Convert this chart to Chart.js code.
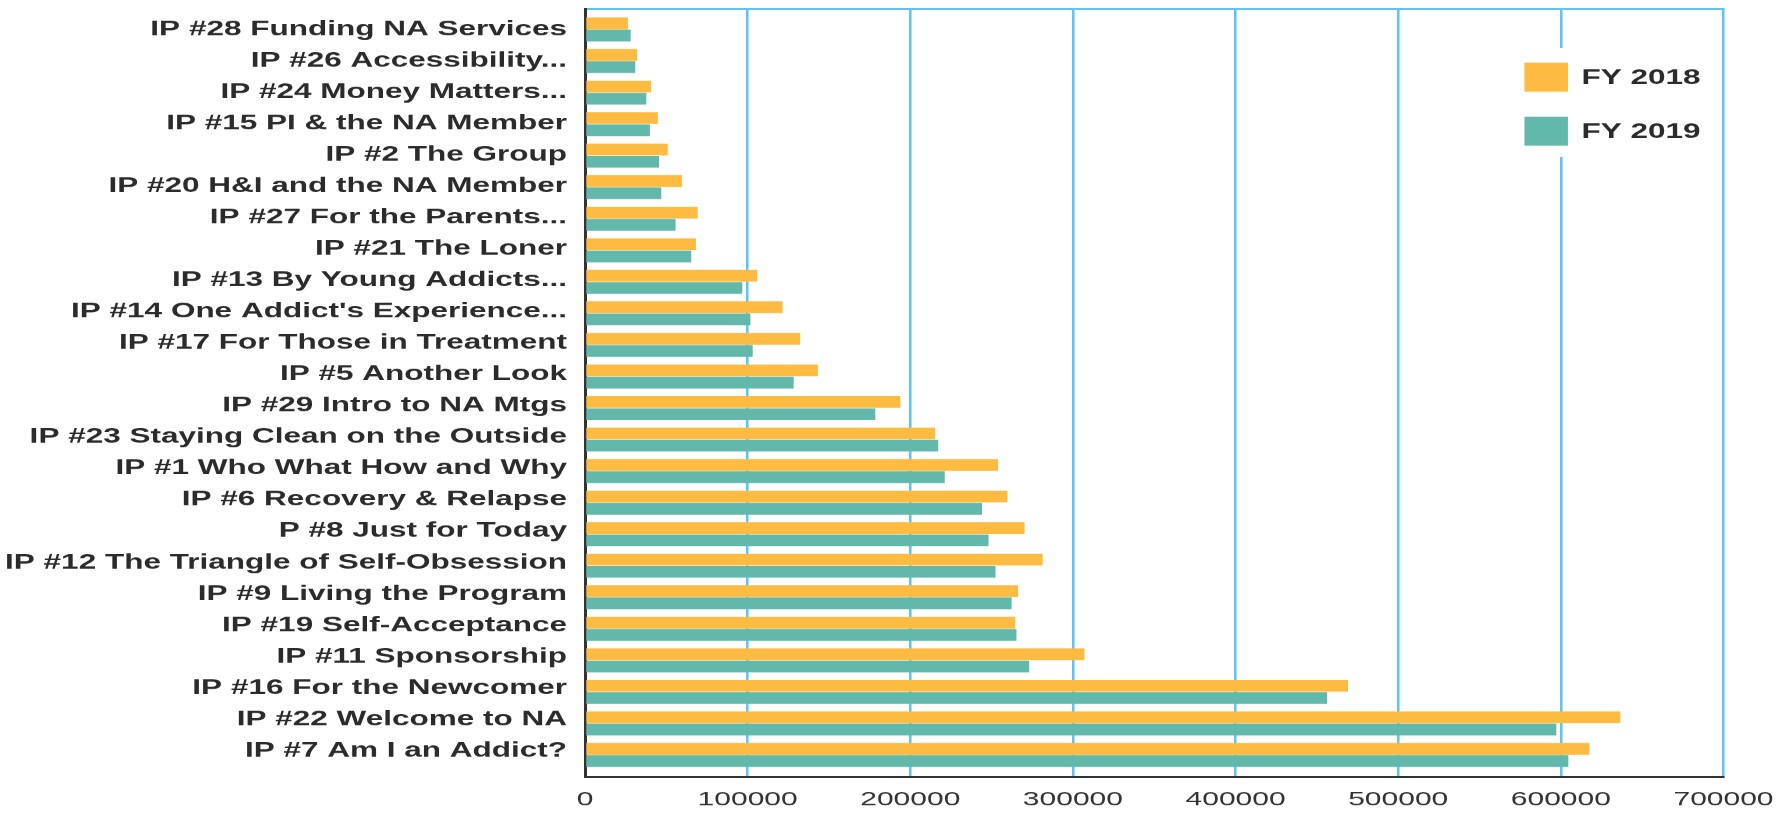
<!DOCTYPE html>
<html>
<head>
<meta charset="utf-8">
<script src="https://cdn.jsdelivr.net/npm/chart.js@4/dist/chart.umd.min.js"></script>
<style>
  html, body { margin: 0; padding: 0; background: #ffffff; overflow: hidden; }
  #c { display: block; width: 1777px !important; height: 814px !important; }
</style>
</head>
<body>
<canvas id="c" width="1185" height="814" style="width:1777px;height:814px;"></canvas>
<script>
// ---- data ----
const categories = [
  "IP #28 Funding NA Services",
  "IP #26 Accessibility...",
  "IP #24 Money Matters...",
  "IP #15 PI & the NA Member",
  "IP #2 The Group",
  "IP #20 H&I and the NA Member",
  "IP #27 For the Parents...",
  "IP #21 The Loner",
  "IP #13 By Young Addicts...",
  "IP #14 One Addict's Experience...",
  "IP #17 For Those in Treatment",
  "IP #5 Another Look",
  "IP #29 Intro to NA Mtgs",
  "IP #23 Staying Clean on the Outside",
  "IP #1 Who What How and Why",
  "IP #6 Recovery & Relapse",
  "P #8 Just for Today",
  "IP #12 The Triangle of Self-Obsession",
  "IP #9 Living the Program",
  "IP #19 Self-Acceptance",
  "IP #11 Sponsorship",
  "IP #16 For the Newcomer",
  "IP #22 Welcome to NA",
  "IP #7 Am I an Addict?"
];
const fy2018 = [26400, 32100, 40600, 44800, 50900, 59700, 69300, 68200, 105900, 121500, 132300, 143200,
                193900, 215300, 254000, 259700, 270300, 281400, 266300, 264600, 307100, 469100, 636600, 617600];
const fy2019 = [28100, 30900, 37700, 39900, 45500, 46900, 55700, 65300, 96700, 101700, 103100, 128300,
                178500, 217200, 221200, 244100, 248100, 252400, 262300, 265300, 273100, 456300, 597200, 604600];
const seriesNames = ["FY 2018", "FY 2019"];
const xTickMin = 0;
const xTickMax = 700000;
const xTickStep = 100000;

// ---- styles ----
const ORANGE = '#FDBB41';
const TEAL = '#62B9AB';
const GRID_BLUE = '#5EC6EE';
const AXIS_DARK = '#333333';
const TEXT_DARK = '#2b2b2b';
const FONT = '"Liberation Sans", Arial, Helvetica, sans-serif';

Chart.defaults.font.family = FONT;

const sideLegend = {
  id: 'sideLegend',
  afterDatasetsDraw(chart) {
    const ctx = chart.ctx;
    const ca = chart.chartArea;
    const boxLeft = ca.right - 132.7;
    ctx.save();
    ctx.fillStyle = '#ffffff';
    ctx.fillRect(boxLeft - 6, 48, 134, 109);
    chart.data.datasets.forEach((ds, i) => {
      const top = 62.7 + i * 54;
      ctx.fillStyle = ds.backgroundColor;
      ctx.fillRect(boxLeft, top, 29, 29);
      ctx.fillStyle = TEXT_DARK;
      ctx.font = 'bold 21px ' + FONT;
      ctx.textBaseline = 'middle';
      ctx.textAlign = 'left';
      ctx.fillText(ds.label, boxLeft + 38, top + 15.5);
    });
    ctx.restore();
  }
};

new Chart(document.getElementById('c'), {
  type: 'bar',
  data: {
    labels: categories,
    datasets: [
      { label: seriesNames[0], data: fy2018, backgroundColor: ORANGE, borderWidth: 0,
        categoryPercentage: 0.775, barPercentage: 0.96 },
      { label: seriesNames[1], data: fy2019, backgroundColor: TEAL, borderWidth: 0,
        categoryPercentage: 0.775, barPercentage: 0.96 }
    ]
  },
  options: {
    indexAxis: 'y',
    responsive: false,
    animation: false,
    devicePixelRatio: 1.5,
    layout: { padding: { top: 9, right: 36, bottom: 0, left: 0 } },
    plugins: {
      legend: { display: false },
      tooltip: { enabled: false },
      title: { display: false }
    },
    scales: {
      x: {
        type: 'linear',
        position: 'bottom',
        min: xTickMin,
        max: xTickMax,
        ticks: {
          stepSize: xTickStep,
          color: '#333333',
          font: { size: 20 },
          padding: 11,
          callback: (v) => String(v)
        },
        grid: {
          drawTicks: false,
          lineWidth: 1.7,
          color: (ctx) => (ctx.tick && ctx.tick.value === 0) ? 'rgba(0,0,0,0)' : GRID_BLUE
        },
        border: { display: true, color: AXIS_DARK, width: 2 },
        afterFit: (s) => { s.height = 37; s.paddingRight = 0; s.paddingLeft = 0; }
      },
      x2: {
        type: 'linear',
        axis: 'x',
        position: 'top',
        display: true,
        grid: { display: false, drawTicks: false },
        ticks: { display: false },
        border: { display: true, color: GRID_BLUE, width: 2 },
        afterFit: (s) => { s.height = 0; s.paddingLeft = 0; s.paddingRight = 0; }
      },
      y: {
        type: 'category',
        position: 'left',
        offset: true,
        ticks: { display: false },
        grid: { display: false, drawTicks: false },
        border: { display: false },
        afterBuildTicks: (s) => {
          s._startValue = -0.65;
          s._valueRange = 24.3475;
        },
        afterFit: (s) => { s.width = 0; s.paddingTop = 0; s.paddingBottom = 0; }
      },
      yl: {
        type: 'category',
        axis: 'y',
        position: 'left',
        offset: true,
        ticks: {
          color: TEXT_DARK,
          font: { size: 21, weight: 'bold' },
          padding: 12,
          autoSkip: false
        },
        grid: { display: false, drawTicks: false },
        border: { display: true, color: AXIS_DARK, width: 2 },
        afterBuildTicks: (s) => {
          s._startValue = -0.644;
          s._valueRange = 24.479;
        },
        afterFit: (s) => { s.width = 390; s.paddingTop = 0; s.paddingBottom = 0; }
      }
    }
  },
  plugins: [sideLegend]
});
</script>
</body>
</html>
